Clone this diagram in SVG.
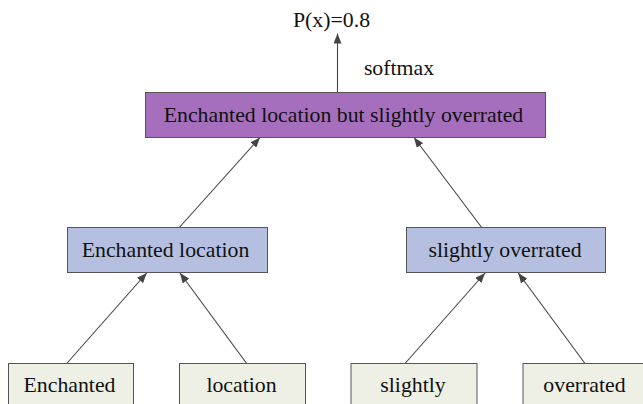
<svg xmlns="http://www.w3.org/2000/svg" width="643" height="404" viewBox="0 0 643 404">
<defs>
<marker id="arr" viewBox="0 0 10 8" refX="10" refY="4" markerWidth="10" markerHeight="8" markerUnits="userSpaceOnUse" orient="auto">
<path d="M0,0 L10,4 L0,8 Z" fill="#444"/>
</marker>
</defs>
<style>
text{font-family:"Liberation Serif","Times New Roman",serif;font-size:21.8px;fill:#111;text-anchor:middle}
.box{stroke:#555;stroke-width:1}
.top{fill:#a66fbd}
.mid{fill:#b5c0e0}
.leaf{fill:#eef0e5}
.edge{stroke:#444;stroke-width:1.1;fill:none;marker-end:url(#arr)}
</style>
<rect width="643" height="404" fill="#fff"/>
<g id="connectors">
<line class="edge" x1="337.5" y1="92.5" x2="337.5" y2="33.5"/>
<line class="edge" x1="179.3" y1="227.5" x2="260" y2="137.5"/>
<line class="edge" x1="481.7" y1="227.5" x2="414" y2="137.5"/>
<line class="edge" x1="66.7" y1="363.5" x2="146.7" y2="273"/>
<line class="edge" x1="246.7" y1="363.5" x2="180" y2="273"/>
<line class="edge" x1="405" y1="363.5" x2="485" y2="273"/>
<line class="edge" x1="585" y1="363.5" x2="518.3" y2="273"/>
</g>
<g id="output"><text x="331.5" y="27">P(x)=0.8</text></g>
<g id="softmax-label"><text x="399" y="75">softmax</text></g>
<g id="root"><rect class="box top" x="145.5" y="92.5" width="400" height="45"/><text x="343.5" y="121.5">Enchanted location but slightly overrated</text></g>
<g id="enchanted-location"><rect class="box mid" x="67.5" y="227.5" width="200" height="45"/><text x="165.5" y="256.5">Enchanted location</text></g>
<g id="slightly-overrated"><rect class="box mid" x="406.5" y="227.5" width="199" height="45"/><text x="505" y="256.5">slightly overrated</text></g>
<g id="enchanted"><rect class="box leaf" x="8.5" y="363.5" width="125" height="45"/><text x="69.5" y="391.5">Enchanted</text></g>
<g id="location"><rect class="box leaf" x="179.5" y="363.5" width="126" height="45"/><text x="241.5" y="391.5">location</text></g>
<g id="slightly"><rect class="box leaf" x="351" y="363.5" width="126" height="45"/><text x="413" y="391.5">slightly</text></g>
<g id="overrated"><rect class="box leaf" x="523" y="363.5" width="126" height="45"/><text x="584.5" y="391.5">overrated</text></g>
</svg>
